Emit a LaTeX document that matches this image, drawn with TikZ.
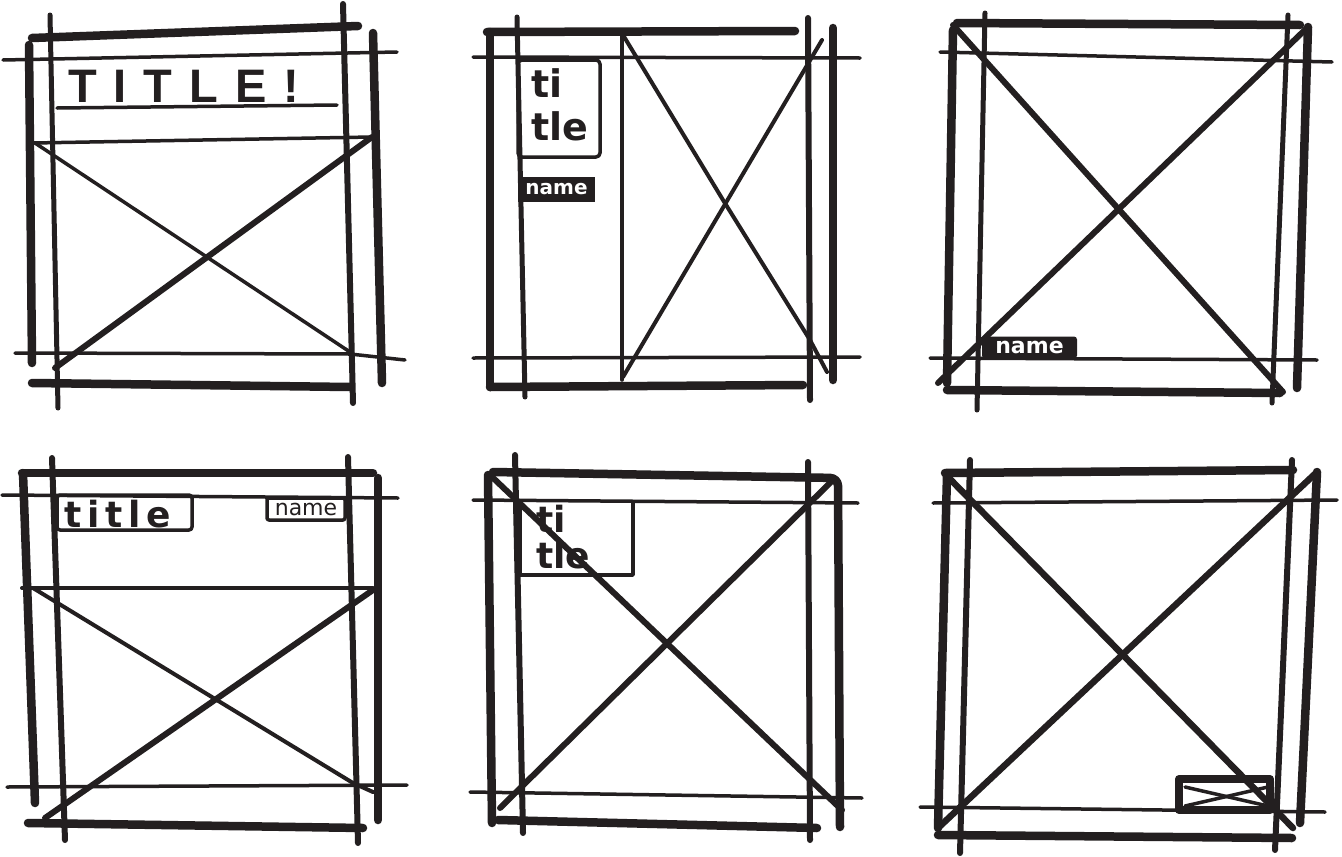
\documentclass[tikz,border=0pt]{standalone}
\usepackage{fontspec}
\setmainfont{DejaVu Sans}
\newfontfamily\capsfont[LetterSpace=36]{Liberation Sans}
\newfontfamily\handfont{DejaVu Sans}
\newfontfamily\handspaced[LetterSpace=16]{DejaVu Sans}
\definecolor{ink}{HTML}{231F20}
\begin{document}
\begin{tikzpicture}[x=1pt,y=-1pt,line cap=round,line join=round,
  heavy/.style={draw=ink,line width=8.5pt},
  medium/.style={draw=ink,line width=6pt},
  light/.style={draw=ink,line width=3.5pt},
  hand/.style={text=ink,inner sep=0pt,anchor=base west},
  namebox/.style={fill=ink,text=white,inner sep=0pt,rounded corners=3pt,font=\handfont\bfseries\fontsize{20}{20}\selectfont},
  nameframe/.style={draw=ink,line width=3.5pt,text=ink,inner sep=0pt,rounded corners=2pt,font=\handfont\fontsize{22}{22}\selectfont}]
\useasboundingbox (0,0) rectangle (1342,857);
\fill[white] (0,0) rectangle (1342,857);

% ---------------- panel 1 ----------------
\draw[heavy] (32,38) -- (358,26);
\draw[heavy] (29,45) -- (32,363);
\draw[medium,line width=5pt] (50,15) -- (58,408);
\draw[medium] (343,4) -- (353,403);
\draw[heavy] (373,33) -- (382,383);
\draw[light] (3,60) -- (397,52);
\draw[light] (57,108) -- (337,105);
\draw[light] (33,143) -- (372,137);
\draw[light] (15,353) -- (350,354) -- (405,360);
\draw[heavy] (32,383) -- (350,387);
\draw[light] (35,143) -- (350,352);
\draw[medium] (372,137) -- (55,368);
\node[hand,font=\capsfont\bfseries\fontsize{47}{47}\selectfont] (p1title) at (68,102) {TITLE!};

% ---------------- panel 2 ----------------
\draw[heavy] (487,32) -- (795,31);
\draw[heavy] (490,32) -- (490,387);
\draw[heavy] (490,387) -- (803,385);
\draw[medium,line width=5pt] (517,17) -- (525,397);
\draw[light] (473,57) -- (860,58);
\draw[light] (473,358) -- (860,357);
\draw[light] (622,33) -- (622,380);
\draw[medium] (808,18) -- (810,400);
\draw[heavy] (833,28) -- (833,380);
\draw[light,line width=4pt] (623,35) -- (723,200) -- (810,340) -- (827,372);
\draw[light,line width=4pt] (822,40) -- (623,377);
\draw[light,rounded corners=4pt] (518,60) rectangle (600,157);
\node[hand,font=\handfont\bfseries\fontsize{38}{38}\selectfont] (p2ti) at (531,97) {ti};
\node[hand,font=\handfont\bfseries\fontsize{38}{38}\selectfont] (p2tle) at (531,140) {tle};
\node[namebox,minimum width=77pt,minimum height=25pt,rounded corners=0pt] (p2name) at (556.5,189.5) {name};

% ---------------- panel 3 ----------------
\draw[heavy] (957,23) -- (1300,25);
\draw[heavy] (953,30) -- (947,383);
\draw[medium,line width=5pt] (985,13) -- (977,410);
\draw[light] (940,52) -- (1332,62);
\draw[medium,line width=5pt] (1288,15) -- (1272,403);
\draw[heavy] (1308,27) -- (1297,388);
\draw[light] (930,358) -- (1317,360);
\draw[heavy] (947,390) -- (1280,393);
\draw[medium] (953,25) -- (1283,392);
\draw[medium] (1308,27) -- (938,383);
\node[namebox,minimum width=95pt,minimum height=22pt,font=\handfont\bfseries\fontsize{22}{22}\selectfont] (p3name) at (1029.5,347.5) {name};

% ---------------- panel 4 ----------------
\draw[heavy] (22,473) -- (373,473);
\draw[heavy] (23,473) -- (35,803);
\draw[medium] (52,458) -- (65,840);
\draw[light] (2,495) -- (398,498);
\draw[medium] (348,457) -- (358,843);
\draw[heavy] (378,478) -- (378,820);
\draw[light,line width=4pt] (22,588) -- (373,588);
\draw[light] (7,787) -- (407,785);
\draw[heavy] (28,823) -- (363,828);
\draw[light,line width=4pt] (33,588) -- (353,783) -- (373,792);
\draw[medium] (373,590) -- (45,818);
\draw[light,rounded corners=3pt] (57,495) rectangle (192,530);
\node[hand,font=\handspaced\bfseries\fontsize{36}{36}\selectfont] (p4title) at (64,527) {title};
\node[nameframe,minimum width=78pt,minimum height=22pt] (p4name) at (306,509) {name};

% ---------------- panel 5 ----------------
\draw[heavy,rounded corners=8pt] (493,472) -- (838,478) -- (840,827);
\draw[heavy] (488,475) -- (492,823);
\draw[medium] (515,455) -- (523,833);
\draw[light] (473,500) -- (858,503);
\draw[medium] (808,462) -- (810,840);
\draw[light] (470,792) -- (862,798);
\draw[heavy] (498,820) -- (817,828);
\draw[medium] (490,475) -- (842,810);
\draw[medium] (833,480) -- (500,808);
\draw[light] (520,502) -- (520,575) -- (633,575) -- (633,502);
\node[hand,font=\handfont\bfseries\fontsize{36}{36}\selectfont] (p5ti) at (536,532) {ti};
\node[hand,font=\handfont\bfseries\fontsize{36}{36}\selectfont] (p5tle) at (536,568) {tle};

% ---------------- panel 6 ----------------
\draw[heavy] (945,473) -- (1293,470);
\draw[heavy] (947,475) -- (938,828);
\draw[medium] (970,460) -- (960,853);
\draw[light] (933,503) -- (1337,500);
\draw[medium] (1292,460) -- (1275,850);
\draw[heavy] (1317,472) -- (1300,823);
\draw[light] (920,807) -- (1325,812);
\draw[heavy] (938,835) -- (1292,838);
\draw[medium,line width=6.5pt] (948,477) -- (1293,828);
\draw[medium,line width=6.5pt] (1317,472) -- (938,828);
\draw[draw=ink,line width=8pt] (1179,779) rectangle (1270,810);
\draw[light] (1185,787) -- (1268,806);
\draw[light] (1185,806) -- (1268,787);
\end{tikzpicture}
\end{document}
